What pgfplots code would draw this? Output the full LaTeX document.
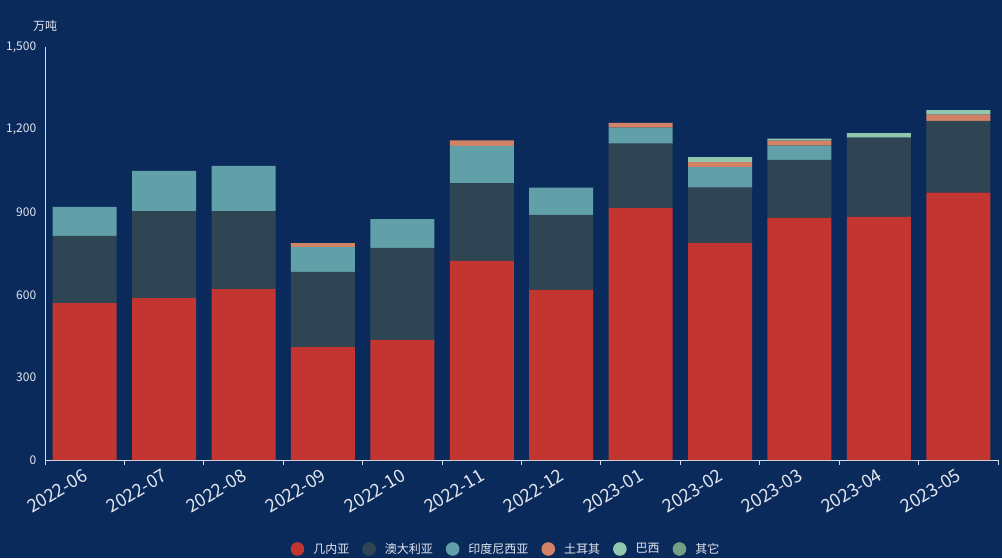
\documentclass[border=0pt]{standalone}
\usepackage{fontspec}
\setmainfont{Noto Sans CJK SC}
\usepackage{pgfplots}
\usepackage{pgfplotstable}
\pgfplotsset{compat=1.18}
\definecolor{bg}{RGB}{11,42,92}
\definecolor{cA}{HTML}{C23531}
\definecolor{cB}{HTML}{2F4554}
\definecolor{cC}{HTML}{61A0A8}
\definecolor{cD}{HTML}{D48265}
\definecolor{cE}{HTML}{91C7AE}
\definecolor{cF}{HTML}{749F83}
\definecolor{axcol}{HTML}{D8DCE6}
\definecolor{txtcol}{HTML}{E2E6EE}
\pgfplotstableread{
x guinea australia indonesia turkey brazil other
0 570 244 105 0 0 0
1 588 316 146 0 0 0
2 621 283 164 0 0 0
3 410 273 91 14 0 0
4 436 334 105 0 0 0
5 723 283 135 20 0 0
6 618 272 99 0 0 0
7 915 234 58 17 0 0
8 788 201 76 17 18 0
9 879 211 52 18 7 0
10 883 288 0 0 16 0
11 971 261 0 22 17 0
}\datatable
\begin{document}
\begin{tikzpicture}[x=1pt,y=1pt]
\fill[bg] (0,0) rectangle (1002,558);
\begin{axis}[
  at={(45pt,98pt)}, anchor=south west,
  scale only axis, width=953pt, height=413pt,
  ybar stacked, bar width=64pt,
  xmin=-0.5, xmax=11.5, ymin=0, ymax=1500,
  axis x line=bottom, axis y line=left,
  axis line style={-, draw=axcol, line width=0.9pt},
  ytick={0,300,600,900,1200,1500},
  ytick style={draw=none},
  yticklabel style={font=\fontsize{12}{14}\selectfont, text=txtcol, xshift=-1pt},
  /pgf/number format/1000 sep={,},
  /pgf/number format/assume math mode=true,
  xtick={0,...,11},
  xticklabels={2022-06,2022-07,2022-08,2022-09,2022-10,2022-11,2022-12,2023-01,2023-02,2023-03,2023-04,2023-05},
  major x tick style={draw=none},
  minor xtick={-0.5,0.5,...,11.5},
  minor x tick style={draw=axcol, line width=0.9pt},
  minor tick length=5pt,
  tick align=outside,
  xticklabel style={font=\fontsize{18}{20}\selectfont, text=txtcol, rotate=31, anchor=north east, inner sep=1pt, xshift=-3pt, yshift=-1pt},
  legend style={at={(0.4837,-0.2155)}, anchor=center, draw=none, fill=none,
    font=\fontsize{12}{14}\selectfont, text=txtcol, legend columns=6,
    /tikz/every odd column/.append style={column sep=7pt},
    /tikz/every even column/.append style={column sep=11pt}},
  legend cell align=left,
  legend image code/.code={\fill[#1] (6.5pt,0pt) circle (6.8pt);},
  clip=false,
]
\addplot[fill=cA, draw=none] table[x=x,y=guinea]{\datatable};
\addplot[fill=cB, draw=none] table[x=x,y=australia]{\datatable};
\addplot[fill=cC, draw=none] table[x=x,y=indonesia]{\datatable};
\addplot[fill=cD, draw=none] table[x=x,y=turkey]{\datatable};
\addplot[fill=cE, draw=none] table[x=x,y=brazil]{\datatable};
\addplot[fill=cF, draw=none] table[x=x,y=other]{\datatable};
\legend{几内亚,澳大利亚,印度尼西亚,土耳其,巴西,其它}
\node[font=\fontsize{12}{14}\selectfont, text=txtcol, anchor=south] at (rel axis cs:0,1) [yshift=12pt] {万吨};
\end{axis}
\end{tikzpicture}
\end{document}
